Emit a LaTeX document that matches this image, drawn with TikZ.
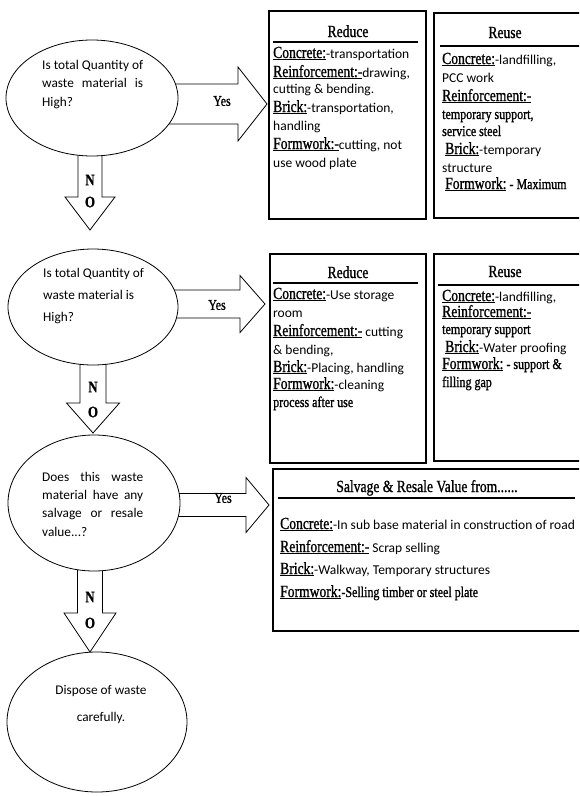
\documentclass[tikz,border=0pt]{standalone}
\usepackage{fontspec}
\setmainfont{Carlito}
\newfontfamily\labf[FakeStretch=0.8,FakeBold=1]{Liberation Serif}
\usetikzlibrary{calc,shapes.geometric}
\pgfdeclarelayer{bg}
\pgfsetlayers{bg,main}
\newcommand\ulab[1]{{\labf\fontsize{17}{20}\selectfont\underline{#1}}}
\newcommand\narr[1]{{\labf\fontsize{15}{18}\selectfont #1}}
\newcommand\blkR[5]{\path[blk] let \p1=(#1), \p2=(#2) in (\x1,\y2+#3) -- (\x2-#5,\y2+#3) -- (\x2-#5,\y2+#4) -- (\x2,\y2) -- (\x2-#5,\y2-#4) -- (\x2-#5,\y2-#3) -- (\x1,\y2-#3) -- cycle;}
\newcommand\blkD[5]{\path[blk] let \p1=(#1), \p2=(#2) in (\x2-#3,\y1) -- (\x2-#3,\y2+#5) -- (\x2-#4,\y2+#5) -- (\x2,\y2) -- (\x2+#4,\y2+#5) -- (\x2+#3,\y2+#5) -- (\x2+#3,\y1) -- cycle;}
\tikzset{
  ell/.style={ellipse, draw, line width=0.8pt, fill=white, inner sep=0pt},
  boxn/.style={draw, line width=1.5pt, inner sep=0pt, anchor=north west},
  rulel/.style={line width=1.5pt},
  blk/.style={draw, line width=0.8pt, fill=white},
  txt/.style={anchor=base west, inner sep=0pt, font=\fontsize{13.5}{16}\selectfont},
  etxt/.style={anchor=base west, inner sep=0pt, font=\fontsize{13.3}{16}\selectfont},
  ttl/.style={anchor=base, inner sep=0pt, font=\labf\fontsize{17}{20}\selectfont},
  yes/.style={inner sep=0pt, font=\labf\fontsize{15}{18}\selectfont},
  nol/.style={inner sep=0pt, font=\labf\bfseries\fontsize{16}{18}\selectfont}
}
\begin{document}
\begin{tikzpicture}[x=1pt,y=-1pt]
\path[use as bounding box] (0,0) rectangle (579,796);
\clip (0,0) rectangle (579,796);
\begin{pgfonlayer}{bg}
\fill[white] (0,0) rectangle (579,796);
\end{pgfonlayer}

% decision ellipses
\node[ell, minimum width=172, minimum height=116] (e1) at (92,98) {};
\node[ell, minimum width=170, minimum height=116] (e2) at (93,307) {};
\node[ell, minimum width=172, minimum height=136] (e3) at (94,503) {};
\node[ell, minimum width=180, minimum height=140] (e4) at (97,722) {};

% ellipse texts
\node[etxt] (e1a) at (42,69) {\makebox[101pt][s]{Is total Quantity of}};
\node[etxt] (e1b) at (42,87) {\makebox[101pt][s]{waste material is}};
\node[etxt] (e1c) at (42,106) {High?};
\node[etxt] (e2a) at (43,277) {Is total Quantity of};
\node[etxt] (e2b) at (43,299) {waste material is};
\node[etxt] (e2c) at (43,321) {High?};
\node[etxt] (e3a) at (42,481) {\makebox[101pt][s]{Does this waste}};
\node[etxt] (e3b) at (42,499) {\makebox[101pt][s]{material have any}};
\node[etxt] (e3c) at (42,517) {\makebox[101pt][s]{salvage or resale}};
\node[etxt] (e3d) at (42,536) {value...?};
\node[etxt, anchor=base] (e4a) at (101,694) {Dispose of waste};
\node[etxt, anchor=base] (e4b) at (101,721) {carefully.};

% boxes
\node[boxn, minimum width=157, minimum height=208] (r1) at (268,10) {};
\node[boxn, minimum width=170, minimum height=205] (u1) at (433,12) {};
\node[boxn, minimum width=156, minimum height=209] (r2) at (269,253) {};
\node[boxn, minimum width=170, minimum height=207] (u2) at (433,253) {};
\node[boxn, minimum width=330, minimum height=162] (s1) at (272,468) {};

% titles and rules
\node[ttl] (r1t) at (348,37) {Reduce};
\node[ttl] (u1t) at (505,38) {Reuse};
\node[ttl] (r2t) at (348,278) {Reduce};
\node[ttl] (u2t) at (505,277) {Reuse};
\node[ttl] (s1t) at (427,492) {Salvage \& Resale Value from......};
\draw[rulel] (273,42) -- (418,42);
\draw[rulel] (440,46) -- (590,46);
\draw[rulel] (273,283) -- (418,283);
\draw[rulel] (438,285) -- (590,285);
\draw[rulel] (278,498) -- (575,498);

% box texts
\foreach \y/\t [count=\i] in {
  {58/\ulab{Concrete:}-transportation},
  {77/\ulab{Reinforcement:-}drawing,},
  {93/cutting \& bending.},
  {112/\ulab{Brick:}-transportation,},
  {130/handling},
  {149/\ulab{Formwork:-}cutting, not},
  {167/use wood plate}}
  \node[txt] (ra\i) at (273,\y) {\t};

\foreach \y/\t [count=\i] in {
  {64/\ulab{Concrete:}-landfilling,},
  {82/PCC work},
  {101/\ulab{Reinforcement:-}},
  {119/\narr{temporary support,}},
  {136/\narr{service steel}},
  {154/\ \ulab{Brick:}-temporary},
  {172/structure},
  {189/\ \ulab{Formwork:} \narr{- Maximum}}}
  \node[txt] (ua\i) at (442,\y) {\t};

\foreach \y/\t [count=\i] in {
  {299/\ulab{Concrete:}-Use storage},
  {317/room},
  {336/\ulab{Reinforcement:-} cutting},
  {354/\& bending,},
  {372/\ulab{Brick:}-Placing, handling},
  {389/\ulab{Formwork:}-cleaning},
  {407/\narr{process after use}}}
  \node[txt] (rb\i) at (273,\y) {\t};

\foreach \y/\t [count=\i] in {
  {301/\ulab{Concrete:}-landfilling,},
  {317/\ulab{Reinforcement:-}},
  {334/\narr{temporary support}},
  {352/\ \ulab{Brick:}-Water proofing},
  {369/\ulab{Formwork:} \narr{- support \&}},
  {387/\narr{filling gap}}}
  \node[txt] (ub\i) at (442,\y) {\t};

\foreach \y/\t [count=\i] in {
  {529/\ulab{Concrete:}-In sub base material in construction of road},
  {552/\ulab{Reinforcement:-} Scrap selling},
  {574/\ulab{Brick:}-Walkway, Temporary structures},
  {597/\ulab{Formwork:}\narr{-Selling timber or steel plate}}}
  \node[txt] (sa\i) at (280,\y) {\t};

% block arrows
\coordinate (y1a) at (160,104); \coordinate (y1b) at (267,104);
\coordinate (y2a) at (165,304); \coordinate (y2b) at (265,304);
\coordinate (y3a) at (165,505); \coordinate (y3b) at (269,505);
\coordinate (n1a) at (90,140);  \coordinate (n1b) at (90,230);
\coordinate (n2a) at (93,350);  \coordinate (n2b) at (93,433);
\coordinate (n3a) at (90,560);  \coordinate (n3b) at (90,652);
\begin{pgfonlayer}{bg}
\blkR{y1a}{y1b}{20pt}{37pt}{29pt}
\blkR{y2a}{y2b}{14pt}{28.5pt}{25pt}
\blkR{y3a}{y3b}{11.5pt}{27.5pt}{23pt}
\blkD{n1a}{n1b}{12pt}{25pt}{33pt}
\blkD{n2a}{n2b}{13pt}{26.5pt}{30pt}
\blkD{n3a}{n3b}{12.5pt}{26pt}{39pt}
\end{pgfonlayer}

\node[yes] (yl1) at (222,101) {Yes};
\node[yes] (yl2) at (217,305) {Yes};
\node[yes] (yl3) at (223,498) {Yes};
\node[nol] (nl1a) at (90,180) {N};
\node[nol] (nl1b) at (90,202) {O};
\node[nol] (nl2a) at (93,387) {N};
\node[nol] (nl2b) at (93,412) {O};
\node[nol] (nl3a) at (90,597) {N};
\node[nol] (nl3b) at (90,623) {O};
\end{tikzpicture}
\end{document}
